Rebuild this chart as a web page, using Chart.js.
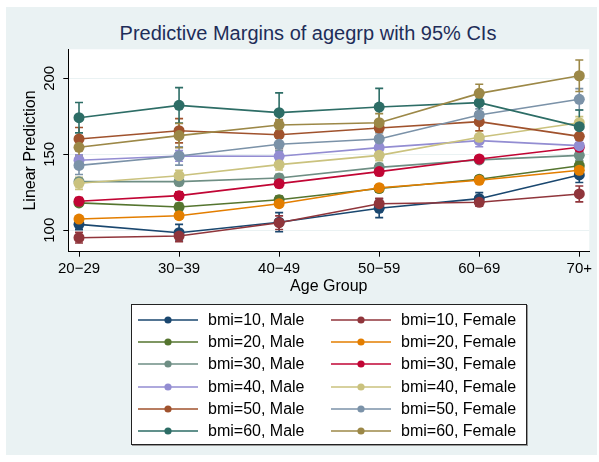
<!DOCTYPE html>
<html>
<head>
<meta charset="utf-8">
<script src="https://cdn.jsdelivr.net/npm/chart.js@4.4.1/dist/chart.umd.min.js"></script>
<style>
  body { margin: 0; background: #fff; font-family: "Liberation Sans", Arial, sans-serif; }
  #wrap { position: relative; width: 599px; height: 462px; overflow: hidden; }
  #bg { position: absolute; left: 6px; top: 7px; width: 591px; height: 448px; background: #eaf2f3; }
  #title { position: absolute; left: 0; width: 616px; top: 22px; text-align: center; font-size: 20px; color: #1e2d59; }
  #myChart { position: absolute; left: 0; top: 0; }
  #legend { position: absolute; left: 131px; top: 304px; width: 394px; height: 139px; background: #fff; border: 1px solid #222; box-shadow: 1px 1px 0 #999; }
  .item { position: absolute; height: 22px; display: flex; align-items: center; font-size: 16px; color: #000; white-space: nowrap; }
  .item span { margin-left: 10px; }
</style>
</head>
<body>
<div id="wrap">
  <div id="bg"></div>
  <div id="title">Predictive Margins of agegrp with 95% CIs</div>
  <canvas id="myChart" width="599" height="462"></canvas>
  <div id="legend"></div>
</div>
<script>
var ageGroups = ["20\u221229", "30\u221239", "40\u221249", "50\u221259", "60\u221269", "70+"];
var yTicks = [100, 150, 200];

var seriesNames = [
  "bmi=10, Male", "bmi=10, Female",
  "bmi=20, Male", "bmi=20, Female",
  "bmi=30, Male", "bmi=30, Female",
  "bmi=40, Male", "bmi=40, Female",
  "bmi=50, Male", "bmi=50, Female",
  "bmi=60, Male", "bmi=60, Female"
];
var seriesColors = [
  "#1a476f", "#90353b", "#55752f", "#e37e00", "#6e8e84", "#c10534",
  "#938dd2", "#cac27e", "#a0522d", "#7b92a8", "#2d6d66", "#9c8847"
];

// predictive margins per age group
var bmi10Male   = [103.9,  98.4, 105.3, 114.5, 120.8, 136.4];
var bmi10Female = [ 95.1,  96.2, 105.0, 117.5, 118.4, 123.9];
var bmi20Male   = [118.0, 115.3, 120.1, 127.5, 133.6, 142.5];
var bmi20Female = [107.4, 109.6, 117.5, 128.0, 132.9, 139.5];
var bmi30Male   = [132.0, 132.0, 134.4, 141.4, 146.3, 149.3];
var bmi30Female = [119.1, 122.8, 130.7, 138.6, 146.9, 154.6];
var bmi40Male   = [146.1, 148.9, 148.7, 154.4, 159.0, 155.7];
var bmi40Female = [130.9, 135.9, 143.2, 149.3, 161.2, 170.8];
var bmi50Male   = [160.1, 165.5, 162.9, 167.3, 171.5, 161.8];
var bmi50Female = [142.7, 148.9, 156.6, 160.1, 175.9, 186.2];
var bmi60Male   = [174.1, 182.2, 177.4, 181.1, 184.0, 168.2];
var bmi60Female = [154.6, 162.3, 169.3, 170.8, 190.1, 201.7];

// half width of the 95% CI
var ci10Male   = [3.5, 5.5, 6.3, 6.2, 4.0, 5.0];
var ci10Female = [3.5, 3.7, 4.5, 3.5, 2.5, 5.2];
var ci20Male   = [2.0, 2.5, 2.5, 2.5, 2.0, 3.0];
var ci20Female = [2.0, 2.0, 2.0, 2.0, 2.0, 3.0];
var ci30Male   = [2.5, 2.5, 2.5, 2.5, 2.0, 3.5];
var ci30Female = [2.5, 2.5, 2.5, 2.5, 2.0, 3.0];
var ci40Male   = [3.5, 3.5, 3.0, 3.0, 4.0, 3.5];
var ci40Female = [4.0, 3.5, 3.5, 3.5, 4.0, 4.0];
var ci50Male   = [7.5, 8.0, 9.0, 5.0, 6.0, 5.0];
var ci50Female = [6.0, 6.0, 4.0, 4.0, 4.0, 7.0];
var ci60Male   = [10.0, 11.7, 13.0, 12.3, 6.0, 11.0];
var ci60Female = [6.0, 8.0, 3.5, 6.0, 6.0, 10.4];

var seriesValues = [bmi10Male, bmi10Female, bmi20Male, bmi20Female, bmi30Male, bmi30Female,
                    bmi40Male, bmi40Female, bmi50Male, bmi50Female, bmi60Male, bmi60Female];
var seriesCI = [ci10Male, ci10Female, ci20Male, ci20Female, ci30Male, ci30Female,
                ci40Male, ci40Female, ci50Male, ci50Female, ci60Male, ci60Female];

var datasets = seriesNames.map(function (name, i) {
  return {
    label: name,
    data: seriesValues[i].map(function (v, j) { return { x: j, y: v }; }),
    ci: seriesCI[i],
    borderColor: seriesColors[i],
    backgroundColor: seriesColors[i],
    borderWidth: 1.6,
    pointRadius: 5.5,
    pointHoverRadius: 5.5,
    pointBorderWidth: 0,
    tension: 0,
    order: seriesNames.length - i
  };
});

// white plot region
var plotBg = {
  id: "plotBg",
  beforeDraw: function (chart) {
    var a = chart.chartArea;
    chart.ctx.save();
    chart.ctx.fillStyle = "#fff";
    chart.ctx.fillRect(a.left, a.top, a.right - a.left, a.bottom - a.top);
    chart.ctx.restore();
  }
};

// capped CI spikes
var errorBars = {
  id: "errorBars",
  beforeDatasetsDraw: function (chart) {
    var ctx = chart.ctx, xs = chart.scales.x, ys = chart.scales.y;
    ctx.save();
    chart.data.datasets.forEach(function (ds) {
      ctx.strokeStyle = ds.borderColor;
      ctx.lineWidth = 1.6;
      ds.data.forEach(function (p, j) {
        var x = xs.getPixelForValue(p.x);
        var top = ys.getPixelForValue(p.y + ds.ci[j]);
        var bot = ys.getPixelForValue(p.y - ds.ci[j]);
        ctx.beginPath();
        ctx.moveTo(x, top); ctx.lineTo(x, bot);
        ctx.moveTo(x - 4, top); ctx.lineTo(x + 4, top);
        ctx.moveTo(x - 4, bot); ctx.lineTo(x + 4, bot);
        ctx.stroke();
      });
    });
    ctx.restore();
  }
};

Chart.defaults.font.family = '"Liberation Sans", Arial, sans-serif';

var chart = new Chart("myChart", {
  type: "line",
  data: { datasets: datasets },
  plugins: [plotBg, errorBars],
  options: {
    responsive: false,
    animation: false,
    layout: { padding: { left: 0, top: 49.3, right: 9.7, bottom: 165.3 } },
    plugins: { legend: { display: false }, tooltip: { enabled: false } },
    scales: {
      x: {
        type: "linear",
        min: -0.107,
        max: 5.1,
        afterBuildTicks: function (s) {
          s.ticks = ageGroups.map(function (g, i) { return { value: i }; });
        },
        ticks: {
          callback: function (v) { return ageGroups[v]; },
          font: { size: 15 }, color: "#000", padding: 3, maxRotation: 0, autoSkip: false
        },
        grid: { drawOnChartArea: false, tickLength: 5, tickColor: "#000" },
        border: { color: "#000", width: 1 },
        title: { display: true, text: "Age Group", font: { size: 16 }, color: "#000", padding: { top: 0, bottom: 1 } },
        afterFit: function (s) { s.height = 45; s.paddingLeft = 0; s.paddingRight = 0; }
      },
      y: {
        min: 85.9,
        max: 219.1,
        afterBuildTicks: function (s) {
          s.ticks = yTicks.map(function (v) { return { value: v }; });
        },
        ticks: { font: { size: 15 }, color: "#000", minRotation: 90, maxRotation: 90, crossAlign: "center", padding: 1 },
        grid: { color: "#eaf2f3", tickLength: 5, tickColor: "#000" },
        border: { color: "#000", width: 1 },
        title: { display: true, text: "Linear Prediction", font: { size: 16 }, color: "#000", padding: { top: 21, bottom: 0 } },
        afterFit: function (s) { s.width = 68.3; s.paddingTop = 0; s.paddingBottom = 0; }
      }
    }
  }
});

// legend: two columns, line with marker
var legendBox = document.getElementById("legend");
chart.data.datasets.forEach(function (ds, i) {
  var item = document.createElement("div");
  item.className = "item";
  item.style.left = (6 + (i % 2) * 193) + "px";
  item.style.top = (4 + Math.floor(i / 2) * 22.2) + "px";
  var c = document.createElement("canvas");
  c.width = 60; c.height = 22;
  var g = c.getContext("2d");
  g.strokeStyle = ds.borderColor;
  g.lineWidth = 1.6;
  g.beginPath(); g.moveTo(0, 11); g.lineTo(60, 11); g.stroke();
  g.fillStyle = ds.backgroundColor;
  g.beginPath(); g.arc(30, 11, 3.6, 0, Math.PI * 2); g.fill();
  var t = document.createElement("span");
  t.textContent = ds.label;
  item.appendChild(c);
  item.appendChild(t);
  legendBox.appendChild(item);
});
</script>
</body>
</html>
